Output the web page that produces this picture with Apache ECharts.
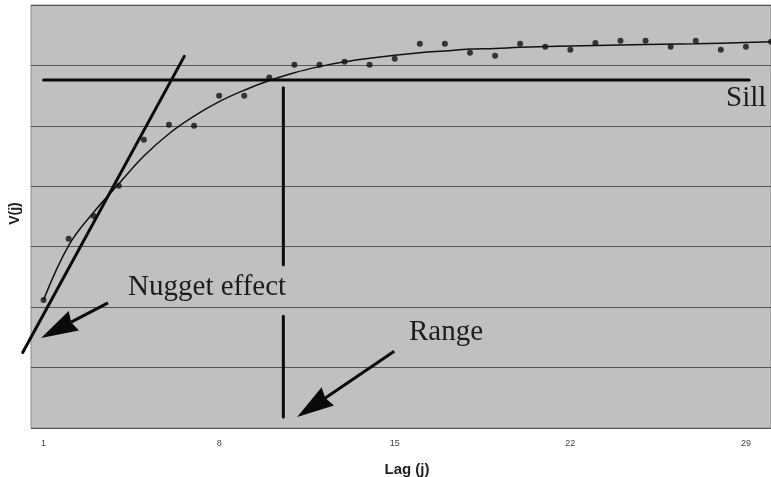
<!DOCTYPE html>
<html>
<head>
<meta charset="utf-8">
<script src="https://cdn.jsdelivr.net/npm/echarts@6/dist/echarts.min.js"></script>
<style>html,body{margin:0;padding:0;background:#fff;}#c{width:771px;height:477px;}</style>
</head>
<body>
<div id="c"></div>
<script>
// Experimental variogram points: [lag, V(j)]
const lags = [1,2,3,4,5,6,7,8,9,10,11,12,13,14,15,16,17,18,19,20,21,22,23,24,25,26,27,28,29,30];
const vValues = [2.12,3.13,3.51,4.01,4.77,5.02,5.0,5.5,5.5,5.8,6.01,6.01,6.06,6.01,6.11,6.36,6.36,6.21,6.16,6.36,6.31,6.26,6.37,6.41,6.41,6.31,6.41,6.26,6.31,6.39];
// Fitted model curve
const curveLags = [1,2,3,4,5,6,7,8,9,10,11,12,13,14,15,16,17,18,19,20,23,27,30];
const curveValues = [2.12,3.02,3.57,4.04,4.5,4.87,5.16,5.4,5.59,5.75,5.88,5.98,6.06,6.12,6.17,6.21,6.24,6.27,6.28,6.30,6.33,6.36,6.39];
// Annotation segments: [x1, y1, x2, y2, width, arrowHead]
const tangentLine = [0.17,1.25,6.61,6.15,3,0];
const sillLine = [1.0,5.76,29.13,5.76,3,0];
const rangeUpper = [10.56,5.63,10.56,2.70,3,0];
const rangeLower = [10.56,1.85,10.56,0.18,3,0];
const nuggetArrow = [3.57,2.07,0.9,1.49,3,1];
const rangeArrow = [14.98,1.27,11.11,0.18,3,1];
// Annotation texts: [x, y(center), text]
const annotations = [[4.37,2.33,'Nugget effect'],[15.57,1.59,'Range'],[28.21,5.45,'Sill']];
const xTickLabels = [1,8,15,22,29];

const chart = echarts.init(document.getElementById('c'));
chart.setOption({
  animation: false,
  backgroundColor: '#ffffff',
  grid: {left: 31, right: 0, top: 5, bottom: 49, show: true, containLabel: false, outerBoundsMode: 'none', backgroundColor: '#c0c0c0', borderColor: '#8a8a8a', borderWidth: 1},
  xAxis: {
    type: 'value', min: 0.5, max: 30,
    name: 'Lag (j)', nameLocation: 'middle', nameGap: 34,
    nameTextStyle: {fontFamily: 'Liberation Sans', fontWeight: 'bold', fontSize: 15, color: '#222', padding: [0,0,0,12]},
    axisLine: {show: false}, axisTick: {show: false}, splitLine: {show: false},
    axisLabel: {customValues: xTickLabels, fontFamily: 'Liberation Sans', fontSize: 9, color: '#444', margin: 11}
  },
  yAxis: {
    type: 'value', min: 0, max: 7, interval: 1,
    name: 'V(j)', nameLocation: 'middle', nameGap: 9, nameRotate: 90,
    nameTextStyle: {fontFamily: 'Liberation Sans', fontWeight: 'bold', fontSize: 14, color: '#222', padding: [0,0,0,6]},
    axisLine: {show: false}, axisTick: {show: false}, axisLabel: {show: false},
    splitLine: {show: true, lineStyle: {color: '#555', width: 1}}
  },
  series: [
    {
      type: 'line', data: curveLags.map((x, i) => [x, curveValues[i]]), smooth: 0.4,
      symbol: 'none', lineStyle: {color: '#111', width: 1.5}, z: 3
    },
    {
      type: 'scatter', data: lags.map((x, i) => [x, vValues[i]]), symbolSize: 6,
      itemStyle: {color: '#111'}, z: 4
    },
    {
      type: 'custom', clip: false, z: 5,
      data: [tangentLine, sillLine, rangeUpper, rangeLower, nuggetArrow, rangeArrow],
      encode: {x: [0, 2], y: [1, 3]},
      renderItem: function (params, api) {
        const p1 = api.coord([api.value(0), api.value(1)]);
        const p2 = api.coord([api.value(2), api.value(3)]);
        const w = api.value(4);
        const arrow = api.value(5);
        if (!arrow) {
          return {type: 'line', shape: {x1: p1[0], y1: p1[1], x2: p2[0], y2: p2[1]}, style: {stroke: '#0a0a0a', lineWidth: w, lineCap: 'round'}};
        }
        const dx = p2[0] - p1[0], dy = p2[1] - p1[1];
        const len = Math.sqrt(dx * dx + dy * dy);
        const ux = dx / len, uy = dy / len, nx = -uy, ny = ux;
        const hl = 37, hw = 11, notch = 3;
        const bx = p2[0] - ux * hl, by = p2[1] - uy * hl;
        return {type: 'group', children: [
          {type: 'line', shape: {x1: p1[0], y1: p1[1], x2: bx + ux * notch, y2: by + uy * notch}, style: {stroke: '#0a0a0a', lineWidth: w}},
          {type: 'polygon', shape: {points: [[p2[0], p2[1]], [bx + nx * hw, by + ny * hw], [bx + ux * notch, by + uy * notch], [bx - nx * hw, by - ny * hw]]}, style: {fill: '#0a0a0a'}}
        ]};
      }
    },
    {
      type: 'custom', clip: false, z: 6,
      data: annotations,
      encode: {x: 0, y: 1},
      renderItem: function (params, api) {
        const p = api.coord([api.value(0), api.value(1)]);
        return {type: 'text', x: p[0], y: p[1], style: {text: annotations[params.dataIndex][2], font: '29px "Liberation Serif"', fill: '#1c1c1c', align: 'left', verticalAlign: 'middle'}};
      }
    }
  ]
});
</script>
</body>
</html>
